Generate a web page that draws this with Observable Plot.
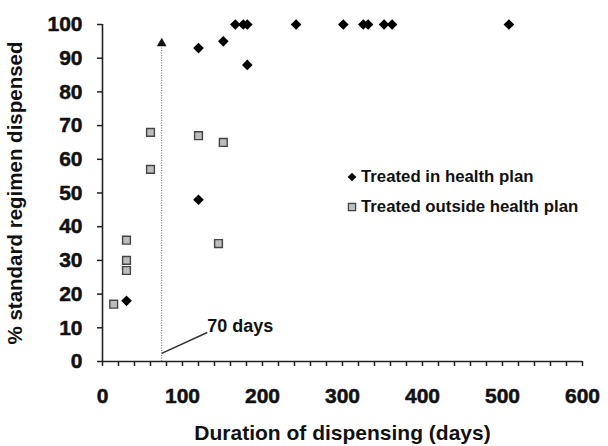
<!DOCTYPE html>
<html>
<head>
<meta charset="utf-8">
<script src="https://cdn.jsdelivr.net/npm/d3@7"></script>
<script src="https://cdn.jsdelivr.net/npm/@observablehq/plot@0.6"></script>
<style>
  html, body { margin: 0; padding: 0; background: #fff; }
  #wrap { position: relative; width: 608px; height: 446px; font-family: "Liberation Sans", Arial, sans-serif; }
  #legend { position: absolute; left: 347px; top: 162px; font-weight: bold; font-size: 16.8px; color: #111; }
  #legend div { display: flex; align-items: center; height: 30px; }
  #legend svg { margin-right: 4px; }
</style>
</head>
<body>
<div id="wrap"></div>
<script>
// Treated in health plan (black diamonds)
const inDays = [30, 120, 120, 151, 181, 166, 176, 181, 242, 301, 326, 332, 352, 362, 508];
const inPct  = [18, 48, 93, 95, 88, 100, 100, 100, 100, 100, 100, 100, 100, 100, 100];
// Treated outside health plan (grey squares)
const outDays = [14, 30, 30, 30, 60, 60, 120, 151, 145];
const outPct  = [17, 36, 30, 27, 68, 57, 67, 65, 35];
// axis ticks
const xTicks = d3.range(0, 601, 20);
const xLabelTicks = [0, 100, 200, 300, 400, 500, 600];
const yTicks = d3.range(0, 101, 10);
// annotation
const threshold = [{x: 74, y1: 0, y2: 94}];
const arrowHead = [{x: 74, y: 94.4}];
const leader = [{x1: 74, y1: 2.4, x2: 131, y2: 8.6}];
const annoLabel = [{x: 131, y: 10.4, text: "70 days"}];
const seriesNames = ["Treated in health plan", "Treated outside health plan"];

const inData = inDays.map((d, i) => ({days: d, pct: inPct[i]}));
const outData = outDays.map((d, i) => ({days: d, pct: outPct[i]}));

const FF = '"Liberation Sans", Arial, sans-serif';

const chart = Plot.plot({
  width: 608,
  height: 446,
  marginLeft: 102,
  marginRight: 26,
  marginTop: 24,
  marginBottom: 85,
  style: {fontFamily: FF, color: "#111", background: "#fff"},
  x: {domain: [0, 600]},
  y: {domain: [0, 100]},
  marks: [
    Plot.axisX({ticks: xTicks, tickFormat: () => "", tickSize: 5, strokeWidth: 1.5, stroke: "#222", label: null}),
    Plot.axisY({ticks: yTicks, tickFormat: () => "", tickSize: 5, strokeWidth: 1.5, stroke: "#222", label: null}),
    Plot.text(xLabelTicks, {x: d => d, text: d => String(d), frameAnchor: "bottom", dy: 35, fontSize: 21, fontWeight: "bold", fill: "#111", stroke: "#111", strokeWidth: 0.5, textAnchor: "middle", lineAnchor: "middle"}),
    Plot.text(yTicks, {y: d => d, text: d => String(d), frameAnchor: "left", dx: -20, fontSize: 21, fontWeight: "bold", fill: "#111", stroke: "#111", strokeWidth: 0.5, textAnchor: "end", lineAnchor: "middle"}),
    Plot.ruleY([0], {stroke: "#222", strokeWidth: 1.6}),
    Plot.ruleX([0], {stroke: "#222", strokeWidth: 1.6}),
    Plot.text(["% standard regimen dispensed"], {frameAnchor: "left", dx: -87, rotate: -90, fontSize: 20.5, fontWeight: "bold", fill: "#111", textAnchor: "middle", lineAnchor: "middle"}),
    Plot.text(["Duration of dispensing (days)"], {frameAnchor: "bottom", dy: 72, fontSize: 21, fontWeight: "bold", fill: "#111", textAnchor: "middle", lineAnchor: "middle"}),
    Plot.ruleX(threshold, {x: "x", y1: "y1", y2: "y2", stroke: "#666", strokeWidth: 1, strokeDasharray: "1,1.5"}),
    Plot.dot(arrowHead, {x: "x", y: "y", symbol: "triangle", r: 3.6, fill: "#111", stroke: "none"}),
    Plot.link(leader, {x1: "x1", y1: "y1", x2: "x2", y2: "y2", stroke: "#333", strokeWidth: 1.5}),
    Plot.text(annoLabel, {x: "x", y: "y", text: "text", textAnchor: "start", lineAnchor: "middle", fontSize: 18, fontWeight: "bold", fill: "#111"}),
    Plot.dot(outData, {x: "days", y: "pct", symbol: "square", r: 4.4, fill: "#bdbdbd", stroke: "#444", strokeWidth: 1.4}),
    Plot.dot(inData, {x: "days", y: "pct", symbol: "diamond2", r: 4.8, fill: "#000", stroke: "none"})
  ]
});

const wrap = document.getElementById("wrap");
wrap.appendChild(chart);

const legend = document.createElement("div");
legend.id = "legend";
legend.innerHTML =
  `<div><svg width="10" height="10" viewBox="-5 -5 10 10"><path d="M0,-4.3L4.3,0L0,4.3L-4.3,0Z" fill="#000"/></svg><span>${seriesNames[0]}</span></div>` +
  `<div><svg width="10" height="10" viewBox="-5 -5 10 10"><rect x="-3.6" y="-3.6" width="7.2" height="7.2" fill="#bdbdbd" stroke="#444" stroke-width="1.3"/></svg><span>${seriesNames[1]}</span></div>`;
wrap.appendChild(legend);
</script>
</body>
</html>
